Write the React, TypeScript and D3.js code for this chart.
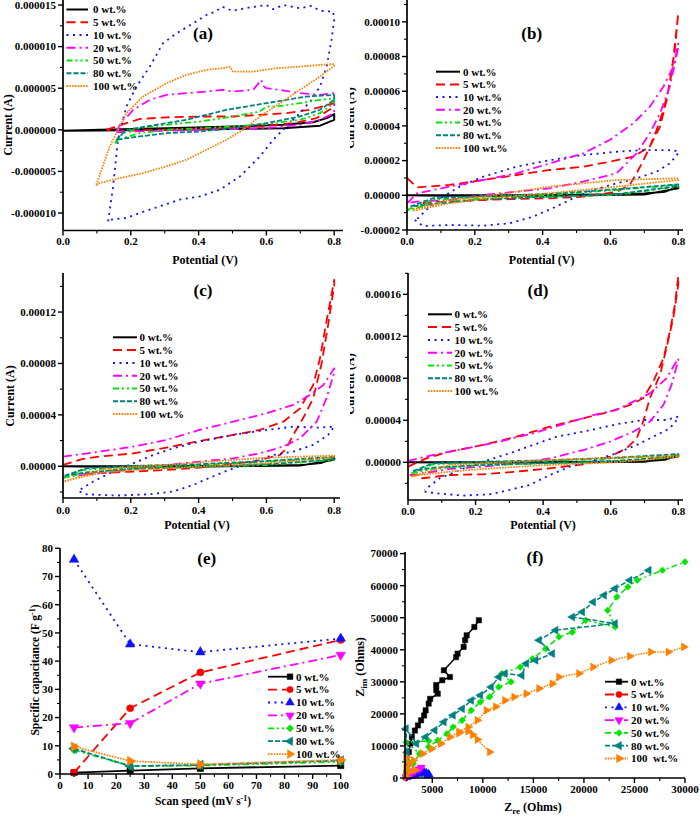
import React from 'react';
import * as d3 from 'd3';

type P = [number, number];

// ---------- shared legend / style data ----------
const SERIES = ['0 wt.%', '5 wt.%', '10 wt.%', '20 wt.%', '50 wt.%', '80 wt.%', '100 wt.%'];
const SERIES_F = ['0 wt.%', '5 wt.%', '10 wt.%', '20 wt.%', '50 wt.%', '80 wt.%', '100  wt.%'];
const COLORS = ['#000000', '#ff0000', '#1010ff', '#ff00ff', '#00e600', '#008080', '#ff8000'];
const DASH = ['none', '9,5', '2,4.5', '9,4,2,4', '6,3,2,3,2,3', '5,2', '1.6,1.2'];

// ---------- panel (a): potential (V), current (µA) ----------
const A0: P[] = [[0,-0.12],[0.108,0],[0.305,0.2],[0.502,0.4],[0.65,0.6],[0.738,0.9],[0.778,1.4],[0.8,1.9],[0.8,1.2],[0.758,0.5],[0.65,0.2],[0.502,0.1],[0.305,0],[0.108,-0.08],[0,-0.12]];
const A5: P[] = [[0.128,0],[0.187,0.8],[0.226,1.3],[0.305,1.5],[0.404,1.6],[0.502,1.6],[0.581,1.8],[0.659,2.0],[0.728,2.4],[0.8,3.2],[0.8,2.8],[0.748,1.4],[0.679,0.8],[0.581,0.4],[0.482,0.2],[0.384,0.1],[0.285,0],[0.187,-0.1],[0.128,0]];
const A10: P[] = [[0.133,-11],[0.148,-6.8],[0.162,-1.2],[0.187,2.8],[0.217,5.2],[0.256,7.6],[0.295,10.4],[0.335,11.6],[0.384,12.8],[0.423,13.8],[0.45,14.2],[0.47,14.8],[0.5,14.3],[0.55,14.7],[0.6,15.0],[0.62,14.5],[0.65,15.0],[0.7,14.6],[0.73,14.9],[0.76,14.3],[0.797,14.2],[0.8,13.2],[0.792,10.8],[0.778,7.6],[0.758,5.2],[0.733,3.6],[0.699,2.0],[0.659,0.4],[0.62,-1.2],[0.581,-3.2],[0.522,-5.6],[0.463,-7.2],[0.404,-8.0],[0.344,-8.4],[0.285,-9.2],[0.226,-10.0],[0.187,-10.6],[0.138,-10.8]];
const A20: P[] = [[0.157,-0.2],[0.177,1.2],[0.19,1.6],[0.207,2.4],[0.256,3.6],[0.305,4.2],[0.364,4.4],[0.423,4.6],[0.47,4.8],[0.502,4.6],[0.561,4.8],[0.585,6.0],[0.59,5.3],[0.6,5.0],[0.64,4.8],[0.699,4.4],[0.758,4.2],[0.8,4.4],[0.8,2.0],[0.758,1.2],[0.699,0.6],[0.6,0.2],[0.502,0.1],[0.404,0],[0.305,-0.1],[0.207,-0.2],[0.157,-0.3]];
const A50: P[] = [[0.153,-1.6],[0.177,-0.4],[0.226,0.2],[0.305,0.6],[0.404,1.0],[0.502,1.6],[0.581,2.2],[0.6,2.8],[0.63,2.8],[0.699,3.2],[0.758,3.6],[0.8,3.8],[0.8,3.2],[0.758,2.0],[0.699,1.2],[0.6,0.7],[0.502,0.4],[0.404,0.2],[0.305,0],[0.226,-0.4],[0.177,-1.0],[0.153,-1.6]];
const A80: P[] = [[0.157,-1.2],[0.187,0],[0.246,0.4],[0.305,0.8],[0.364,1.2],[0.423,1.8],[0.482,2.4],[0.541,2.8],[0.6,3.2],[0.659,3.6],[0.718,4.0],[0.8,4.2],[0.8,3.6],[0.758,2.4],[0.699,1.6],[0.6,0.8],[0.502,0.2],[0.404,-0.2],[0.305,-0.4],[0.226,-0.8],[0.187,-1.0],[0.157,-1.2]];
const A100: P[] = [[0.098,-6.6],[0.138,-2],[0.187,2],[0.236,4],[0.305,5.6],[0.364,6.6],[0.423,7.2],[0.47,7.4],[0.492,7.6],[0.502,7.0],[0.561,7.0],[0.63,7.4],[0.699,7.6],[0.758,7.8],[0.8,7.9],[0.8,7.7],[0.758,6.4],[0.699,4.8],[0.64,3.2],[0.581,1.6],[0.531,0],[0.482,-1.2],[0.423,-2.4],[0.364,-3.6],[0.305,-4.4],[0.236,-5.2],[0.167,-5.8],[0.108,-6.4],[0.098,-6.7]];
const A_Y_TICKS = [-10, -5, 0, 5, 10, 15];

// ---------- panel (b): current in 1e-5 A ----------
const B0: P[] = [[0,0],[0.3,0],[0.6,0.05],[0.7,0.1],[0.76,0.2],[0.8,0.5],[0.8,0.4],[0.7,0.05],[0.4,-0.02],[0.1,-0.03],[0,0]];
const B5: P[] = [[0,1.0],[0.03,0.46],[0.126,0.6],[0.224,0.88],[0.323,1.17],[0.421,1.46],[0.52,1.65],[0.598,1.94],[0.667,2.23],[0.716,2.8],[0.746,3.95],[0.766,5.5],[0.785,7.8],[0.8,10.5],[0.79,8.4],[0.775,6.4],[0.756,4.9],[0.736,3.76],[0.716,2.8],[0.697,2.0],[0.677,1.27],[0.657,0.6],[0.618,0.2],[0.52,-0.08],[0.421,-0.17],[0.323,-0.21],[0.224,-0.27],[0.126,-0.36],[0.03,-0.46]];
const B10: P[] = [[0.023,-1.42],[0.047,-1.77],[0.126,-1.71],[0.224,-1.75],[0.303,-1.61],[0.372,-1.23],[0.44,-0.65],[0.5,-0.08],[0.549,0.31],[0.618,0.69],[0.677,0.98],[0.736,1.36],[0.775,1.84],[0.8,2.42],[0.8,2.55],[0.766,2.61],[0.697,2.61],[0.618,2.51],[0.52,2.32],[0.421,2.03],[0.323,1.65],[0.224,1.07],[0.155,0.5],[0.106,-0.08],[0.057,-0.84],[0.023,-1.5]];
const B20: P[] = [[0,-0.46],[0.03,0.12],[0.126,0.5],[0.224,0.88],[0.323,1.27],[0.421,1.84],[0.52,2.42],[0.598,3.19],[0.667,4.15],[0.716,5.1],[0.756,6.26],[0.785,7.4],[0.8,8.75],[0.8,8.5],[0.775,6.26],[0.746,4.72],[0.716,3.57],[0.677,2.42],[0.618,1.27],[0.52,0.79],[0.421,0.4],[0.323,0.21],[0.224,0.02],[0.126,-0.27],[0.03,-0.36],[0,-0.46]];
const B50: P[] = [[0,-0.84],[0.077,-0.27],[0.224,-0.08],[0.421,0.02],[0.618,0.31],[0.8,0.6],[0.8,0.5],[0.618,0.02],[0.421,-0.08],[0.224,-0.17],[0.077,-0.46],[0,-0.88]];
const B80: P[] = [[0.01,-0.65],[0.077,-0.17],[0.224,-0.04],[0.421,0.08],[0.618,0.35],[0.8,0.63],[0.8,0.54],[0.618,0.06],[0.421,-0.08],[0.224,-0.23],[0.077,-0.5],[0.01,-0.65]];
const B100: P[] = [[0.018,-0.84],[0.126,-0.27],[0.224,-0.08],[0.323,0.21],[0.421,0.5],[0.52,0.69],[0.618,0.88],[0.8,0.98],[0.8,0.88],[0.618,0.5],[0.421,0.12],[0.224,-0.21],[0.126,-0.46],[0.018,-0.88]];
const B_Y_TICKS = [-2, 0, 2, 4, 6, 8, 10];

// ---------- panel (c): current in 1e-5 A ----------
const C0: P[] = [[0,0],[0.3,0],[0.6,0.05],[0.7,0.1],[0.76,0.25],[0.8,0.62],[0.8,0.5],[0.7,0.05],[0.4,-0.02],[0.1,-0.03],[0,0]];
const C5: P[] = [[0,0.1],[0.059,0.57],[0.108,0.75],[0.207,1.0],[0.305,1.45],[0.403,1.97],[0.502,2.44],[0.581,2.83],[0.65,3.47],[0.699,4.5],[0.738,6.32],[0.758,8.4],[0.777,11.25],[0.8,14.5],[0.8,14.1],[0.782,11.0],[0.762,7.9],[0.738,5.3],[0.708,3.73],[0.679,2.44],[0.659,1.4],[0.64,0.88],[0.561,0.36],[0.403,-0.1],[0.305,-0.29],[0.207,-0.41],[0.108,-0.54],[0.059,-0.62]];
const C10: P[] = [[0.049,-1.97],[0.069,-2.18],[0.157,-2.28],[0.256,-2.18],[0.325,-1.97],[0.384,-1.45],[0.453,-0.67],[0.502,-0.16],[0.561,0.36],[0.62,0.88],[0.679,1.14],[0.738,1.66],[0.782,2.44],[0.8,3.08],[0.748,3.0],[0.679,3.08],[0.6,2.83],[0.502,2.44],[0.403,1.92],[0.325,1.4],[0.266,0.88],[0.207,0.23],[0.148,-0.41],[0.089,-1.19],[0.049,-1.84]];
const C20: P[] = [[0,0.75],[0.108,1.14],[0.207,1.53],[0.305,2.05],[0.403,2.83],[0.502,3.47],[0.6,4.12],[0.679,4.77],[0.728,5.55],[0.768,6.32],[0.8,7.62],[0.8,7.3],[0.777,5.29],[0.748,3.47],[0.699,2.18],[0.65,1.53],[0.581,1.01],[0.502,0.62],[0.403,0.36],[0.305,0.1],[0.207,-0.21],[0.108,-0.54],[0.01,-0.8],[0,-0.88]];
const C50: P[] = [[0,-0.93],[0.059,-0.28],[0.207,-0.03],[0.403,0.1],[0.6,0.36],[0.8,0.67],[0.8,0.49],[0.6,0.1],[0.403,-0.05],[0.207,-0.16],[0.059,-0.54],[0,-0.93]];
const C80: P[] = [[0.005,-0.73],[0.069,-0.16],[0.207,0.03],[0.403,0.16],[0.6,0.41],[0.8,0.73],[0.8,0.54],[0.6,0.16],[0.403,-0.05],[0.207,-0.21],[0.069,-0.47],[0.005,-0.73]];
const C100: P[] = [[0.005,-1.19],[0.108,-0.29],[0.207,-0.03],[0.305,0.1],[0.403,0.31],[0.502,0.49],[0.6,0.67],[0.8,0.83],[0.8,0.7],[0.6,0.23],[0.403,-0.03],[0.207,-0.29],[0.108,-0.54],[0.005,-1.14]];
const C_Y_TICKS = [0, 4, 8, 12];

// ---------- panel (d): current in 1e-5 A ----------
const D0: P[] = [[0,0],[0.3,0],[0.6,0.05],[0.7,0.1],[0.76,0.25],[0.8,0.7],[0.8,0.55],[0.7,0.05],[0.4,-0.02],[0.1,-0.03],[0,0]];
const D5: P[] = [[0,-0.41],[0.054,0.38],[0.123,1.02],[0.222,1.65],[0.321,2.44],[0.42,3.4],[0.519,4.19],[0.598,4.83],[0.657,5.46],[0.696,6.1],[0.726,7.68],[0.756,9.9],[0.775,12.44],[0.79,15.0],[0.8,17.7],[0.8,16.9],[0.785,13.7],[0.765,10.86],[0.746,8.32],[0.716,6.1],[0.696,3.87],[0.677,2.29],[0.647,1.33],[0.598,0.54],[0.519,-0.19],[0.42,-0.57],[0.321,-0.89],[0.222,-1.14],[0.123,-1.21],[0.044,-1.52],[0.025,-1.45]];
const D10: P[] = [[0.049,-2.79],[0.084,-2.95],[0.163,-3.17],[0.242,-3.05],[0.301,-2.63],[0.36,-2.16],[0.42,-1.21],[0.479,-0.41],[0.538,0.06],[0.617,0.86],[0.677,1.65],[0.736,2.6],[0.775,3.24],[0.8,4.19],[0.8,4.35],[0.765,4.03],[0.696,4.03],[0.617,3.62],[0.519,2.92],[0.44,2.44],[0.37,1.65],[0.301,0.86],[0.222,0.06],[0.153,-0.73],[0.094,-1.52],[0.049,-2.63]];
const D20: P[] = [[0,0.13],[0.074,0.7],[0.173,1.33],[0.272,1.97],[0.37,2.76],[0.469,3.71],[0.548,4.5],[0.617,4.98],[0.667,5.78],[0.716,6.57],[0.765,8.0],[0.8,9.9],[0.8,9.7],[0.78,7.37],[0.756,5.46],[0.716,3.87],[0.667,2.92],[0.598,1.97],[0.519,1.17],[0.42,0.38],[0.321,-0.1],[0.222,-0.41],[0.123,-0.63],[0.015,-1.21],[0.005,-1.21]];
const D50: P[] = [[0.01,-1.05],[0.074,-0.19],[0.222,0],[0.42,0.13],[0.617,0.38],[0.8,0.7],[0.8,0.54],[0.617,0.06],[0.42,-0.1],[0.222,-0.25],[0.074,-0.63],[0.01,-1.05]];
const D80: P[] = [[0.015,-0.83],[0.074,-0.1],[0.222,0.06],[0.42,0.19],[0.617,0.44],[0.8,0.79],[0.8,0.6],[0.617,0.13],[0.42,-0.06],[0.222,-0.25],[0.074,-0.51],[0.015,-0.83]];
const D100: P[] = [[0.01,-1.37],[0.123,-0.25],[0.222,-0.1],[0.42,0.22],[0.617,0.44],[0.8,0.63],[0.8,0.51],[0.617,0],[0.42,-0.25],[0.222,-0.63],[0.123,-0.89],[0.01,-1.3]];
const D_Y_TICKS = [0, 4, 8, 12, 16];

const X_TICKS_CV = [0, 0.2, 0.4, 0.6, 0.8];

// ---------- panel (e): scan speed (mV/s) vs specific capacitance ----------
const SPEED = [5, 25, 50, 100];
const E0 = [0.5, 1.2, 2.0, 3.0];
const E5 = [0.5, 23.3, 36, 47.5];
const E10 = [76, 46, 43.2, 48];
const E20 = [16.5, 18, 32, 42.2];
const E50 = [8.5, 2.8, 3.0, 4.3];
const E80 = [9, 2.8, 3.2, 4.8];
const E100 = [9.7, 4.6, 3.4, 5.0];
const E_X_TICKS = [0, 10, 20, 30, 40, 50, 60, 70, 80, 90, 100];
const E_Y_TICKS = [0, 10, 20, 30, 40, 50, 60, 70, 80];

// ---------- panel (f): Nyquist, Zre vs Zim (Ohms) ----------
const F0: P[] = [[2450,1500],[2590,4500],[2680,8100],[2830,10700],[2980,12800],[3280,14800],[3580,16400],[3890,18000],[4190,19500],[4340,21100],[4640,23200],[4790,24700],[5540,26300],[5390,27400],[5390,29000],[5990,30500],[6750,31500],[6150,33600],[7350,37700],[7500,38800],[8100,40900],[8250,43000],[8400,44500],[9160,47100],[9610,49200]];
const F5: P[] = [[2350,100],[2500,300],[2700,500],[2900,700]];
const F10: P[] = [[2500,200],[2900,600],[3300,900],[3700,1200],[4000,1500],[4200,1900],[4400,1600],[4600,1300],[4700,1000],[4500,700]];
const F20: P[] = [[2400,300],[2700,900],[3000,1600],[3300,2200],[3700,2800],[3900,3300]];
const F50: P[] = [[2500,2500],[2700,5000],[3130,4500],[3735,7600],[2400,11200],[4640,11600],[4640,9700],[5540,11750],[6450,13800],[7050,15900],[7950,18000],[8855,21100],[9760,23700],[10670,25300],[11580,28400],[12790,30000],[11880,32600],[13700,34600],[14910,37200],[16210,40350],[17530,44000],[18850,45500],[20180,49200],[23080,47100],[22350,52300],[23260,56500],[24350,59600],[25270,61700],[27770,64800],[30000,67400]];
const F80: P[] = [[2500,8000],[2400,15400],[3430,10700],[4340,12800],[5240,14900],[6145,17500],[7050,19600],[7950,21600],[8855,24200],[9760,25800],[10820,28400],[11580,31500],[12180,32600],[13850,32000],[14300,35700],[15230,36700],[16870,38800],[15560,43000],[17200,46100],[23080,48200],[18850,50200],[19840,51800],[20910,54900],[21990,57000],[23080,59100],[24530,61700],[26420,64800]];
const F100: P[] = [[2400,500],[2400,3000],[2800,2000],[2400,6500],[3300,2500],[2680,4500],[3130,5500],[4040,7600],[4940,9150],[5840,10700],[6750,12800],[7650,14400],[8550,15900],[9460,18000],[10360,21100],[11270,22200],[12180,24200],[13090,25300],[14300,26300],[15560,27900],[16870,29400],[17530,31500],[19510,32600],[20910,34600],[22720,36700],[24530,38000],[26620,39300],[28350,39300],[29880,40900]];
const F100_TAIL: P[] = [[7650,14000],[8550,14600],[9000,13500],[9460,12000],[10670,8100]];
const F_X_TICKS = [5000, 10000, 15000, 20000, 25000, 30000];
const F_Y_TICKS = [0, 10000, 20000, 30000, 40000, 50000, 60000, 70000];

const FONT = '"Liberation Serif", "Times New Roman", serif';
const SYM = [d3.symbolSquare, d3.symbolCircle, d3.symbolTriangle, d3.symbolTriangle, d3.symbolSquare, d3.symbolTriangle, d3.symbolTriangle];
const ROT = [0, 0, 0, 180, 45, -90, 90];

type Frame = { l: number; r: number; t: number; b: number };

function Marker({ i, x, y, size }: { i: number; x: number; y: number; size: number }) {
  const d = d3.symbol(SYM[i], i === 4 ? size * 0.8 : size)() as string;
  return <path d={d} transform={`translate(${x},${y}) rotate(${ROT[i]})`} fill={COLORS[i]} stroke={COLORS[i]} strokeWidth={0.5} />;
}

function Axes({ f, xs, ys, xTicks, yTicks, xMinor, yMinor, xFmt, yFmt, xLabDy = 14.5 }: any) {
  return (
    <g fontFamily={FONT} fontWeight="bold" fontSize={11}>
      <line x1={f.l} x2={f.l} y1={f.t} y2={f.b} stroke="#000" strokeWidth={1.7} />
      <line x1={f.l} x2={f.r} y1={f.b} y2={f.b} stroke="#000" strokeWidth={1.7} />
      {yTicks.map((t: number) => (
        <g key={'y' + t}>
          <line x1={f.l - 5} x2={f.l} y1={ys(t)} y2={ys(t)} stroke="#000" strokeWidth={1.4} />
          <text x={f.l - 7} y={ys(t)} dy="0.35em" textAnchor="end">{yFmt(t)}</text>
        </g>
      ))}
      {yMinor.map((t: number) => (
        <line key={'ym' + t} x1={f.l - 3} x2={f.l} y1={ys(t)} y2={ys(t)} stroke="#000" strokeWidth={1.1} />
      ))}
      {xTicks.map((t: number) => (
        <g key={'x' + t}>
          <line x1={xs(t)} x2={xs(t)} y1={f.b} y2={f.b + 5} stroke="#000" strokeWidth={1.4} />
          <text x={xs(t)} y={f.b + xLabDy} textAnchor="middle">{xFmt(t)}</text>
        </g>
      ))}
      {xMinor.map((t: number) => (
        <line key={'xm' + t} x1={xs(t)} x2={xs(t)} y1={f.b} y2={f.b + 3} stroke="#000" strokeWidth={1.1} />
      ))}
    </g>
  );
}

function minorBetween(lo: number, hi: number, step: number, majors: number[]) {
  const out: number[] = [];
  const n = Math.round((hi - lo) / step);
  for (let k = 0; k <= n; k++) {
    const v = lo + k * step;
    if (!majors.some((m) => Math.abs(m - v) < step * 0.01)) out.push(v);
  }
  return out;
}

function LegendCV({ x0, x1, tx, y0, dy }: { x0: number; x1: number; tx: number; y0: number; dy: number }) {
  return (
    <g fontFamily={FONT} fontWeight="bold" fontSize={11}>
      {SERIES.map((s, i) => (
        <g key={s}>
          <line x1={x0} x2={x1} y1={y0 + i * dy} y2={y0 + i * dy} stroke={COLORS[i]} strokeWidth={2} strokeDasharray={DASH[i]} />
          <text x={tx} y={y0 + i * dy} dy="0.35em">{s}</text>
        </g>
      ))}
    </g>
  );
}

function CVPanel(props: {
  f: Frame; xMax: number; yDom: [number, number]; yTicks: number[]; yMinorStep: number; yFmt: (v: number) => string;
  data: P[][]; tag: string; tagX: number; tagY: number; leg: { x0: number; x1: number; tx: number; y0: number; dy: number };
  xTitleX: number; xTitleY: number; yTitleX: number; yTitleY: number; clip?: string; xLabDy?: number;
}) {
  const { f } = props;
  const xs = d3.scaleLinear().domain([0, props.xMax]).range([f.l, f.r]);
  const ys = d3.scaleLinear().domain(props.yDom).range([f.b, f.t]);
  const line = d3.line<P>().x((d) => xs(d[0])).y((d) => ys(d[1]));
  const xMinor = [0.1, 0.3, 0.5, 0.7];
  const lo = Math.ceil(props.yDom[0] / props.yMinorStep) * props.yMinorStep;
  const yMinor = minorBetween(lo, props.yDom[1], props.yMinorStep, props.yTicks).filter((v) => v <= props.yDom[1]);
  return (
    <g>
      {props.data.map((d, i) => (
        <path key={i} d={line(d) as string} fill="none" stroke={COLORS[i]} strokeWidth={i === 0 ? 2 : 1.8} strokeDasharray={DASH[i]} strokeLinejoin="round" />
      ))}
      <Axes f={f} xs={xs} ys={ys} xTicks={X_TICKS_CV} yTicks={props.yTicks} xMinor={xMinor} yMinor={yMinor}
        xFmt={(v: number) => v.toFixed(1)} yFmt={props.yFmt} xLabDy={props.xLabDy ?? 14.5} />
      <LegendCV {...props.leg} />
      <text x={props.tagX} y={props.tagY} textAnchor="middle" fontFamily={FONT} fontWeight="bold" fontSize={17}>{props.tag}</text>
      <text x={props.xTitleX} y={props.xTitleY} textAnchor="middle" fontFamily={FONT} fontWeight="bold" fontSize={12}>Potential (V)</text>
      <g clipPath={props.clip}>
        <text transform={`translate(${props.yTitleX},${props.yTitleY}) rotate(-90)`} textAnchor="middle" fontFamily={FONT} fontWeight="bold" fontSize={12}>Current (A)</text>
      </g>
    </g>
  );
}

function PanelE() {
  const f: Frame = { l: 60, r: 341, t: 548.3, b: 774 };
  const xs = d3.scaleLinear().domain([0, 100]).range([60, 340.7]);
  const ys = d3.scaleLinear().domain([0, 80]).range([774, 548.3]);
  const all = [E0, E5, E10, E20, E50, E80, E100];
  const line = d3.line<number>().x((_, k) => xs(SPEED[k])).y((d) => ys(d));
  const xMinor = minorBetween(5, 95, 10, []);
  const yMinor = minorBetween(5, 75, 10, []);
  const lx0 = 268, lx1 = 293, ly0 = 676.7, ldy = 12.9;
  return (
    <g>
      {all.map((s, i) => (
        <g key={i}>
          <path d={line(s) as string} fill="none" stroke={COLORS[i]} strokeWidth={1.8} strokeDasharray={DASH[i]} />
          {s.map((v, k) => <Marker key={k} i={i} x={xs(SPEED[k])} y={ys(v)} size={40} />)}
        </g>
      ))}
      <Axes f={f} xs={xs} ys={ys} xTicks={E_X_TICKS} yTicks={E_Y_TICKS} xMinor={xMinor} yMinor={yMinor}
        xFmt={(v: number) => String(v)} yFmt={(v: number) => String(v)} xLabDy={15} />
      <g fontFamily={FONT} fontWeight="bold" fontSize={11}>
        {SERIES.map((s, i) => (
          <g key={s}>
            <line x1={lx0} x2={lx1} y1={ly0 + i * ldy} y2={ly0 + i * ldy} stroke={COLORS[i]} strokeWidth={1.8} strokeDasharray={DASH[i]} />
            <Marker i={i} x={lx1 - 3} y={ly0 + i * ldy} size={32} />
            <text x={lx1 + 3} y={ly0 + i * ldy} dy="0.35em">{s}</text>
          </g>
        ))}
      </g>
      <text x={206.7} y={564} textAnchor="middle" fontFamily={FONT} fontWeight="bold" fontSize={17}>(e)</text>
      <text x={203} y={805} textAnchor="middle" fontFamily={FONT} fontWeight="bold" fontSize={11.5}>
        Scan speed (mV s<tspan dy={-4} fontSize={8}>-1</tspan><tspan dy={4}>)</tspan>
      </text>
      <text transform="translate(39,670) rotate(-90)" textAnchor="middle" fontFamily={FONT} fontWeight="bold" fontSize={11.5}>
        Specific capacitance (F g<tspan dy={-4} fontSize={8}>-1</tspan><tspan dy={4}>)</tspan>
      </text>
    </g>
  );
}

function PanelF() {
  const f: Frame = { l: 405, r: 685, t: 552, b: 778 };
  const xs = d3.scaleLinear().domain([2300, 30000]).range([405, 685]);
  const ys = d3.scaleLinear().domain([0, 70500]).range([778, 552]);
  const all = [F0, F5, F10, F20, F50, F80, F100];
  const line = d3.line<P>().x((d) => xs(d[0])).y((d) => ys(d[1]));
  const xMinor = minorBetween(2500, 27500, 5000, []);
  const yMinor = minorBetween(5000, 65000, 10000, []);
  const lx0 = 605, lx1 = 628, ly0 = 681.7, ldy = 12.8;
  return (
    <g>
      {all.map((s, i) => (
        <g key={i}>
          <path d={line(s) as string} fill="none" stroke={COLORS[i]} strokeWidth={1.5} strokeDasharray={DASH[i]} />
          {s.map((p, k) => <Marker key={k} i={i} x={xs(p[0])} y={ys(p[1])} size={28} />)}
        </g>
      ))}
      <path d={line(F100_TAIL) as string} fill="none" stroke={COLORS[6]} strokeWidth={1.5} strokeDasharray={DASH[6]} />
      {F100_TAIL.map((p, k) => <Marker key={'t' + k} i={6} x={xs(p[0])} y={ys(p[1])} size={28} />)}
      <Axes f={f} xs={xs} ys={ys} xTicks={F_X_TICKS} yTicks={F_Y_TICKS} xMinor={xMinor} yMinor={yMinor}
        xFmt={(v: number) => String(v)} yFmt={(v: number) => String(v)} xLabDy={15} />
      <g fontFamily={FONT} fontWeight="bold" fontSize={11}>
        {SERIES_F.map((s, i) => (
          <g key={s}>
            <line x1={lx0} x2={lx1} y1={ly0 + i * ldy} y2={ly0 + i * ldy} stroke={COLORS[i]} strokeWidth={1.8} strokeDasharray={DASH[i]} />
            <Marker i={i} x={lx0 + 14} y={ly0 + i * ldy} size={30} />
            <text x={lx1 + 3} y={ly0 + i * ldy} dy="0.35em" style={{ whiteSpace: 'pre' }}>{s}</text>
          </g>
        ))}
      </g>
      <text x={535} y={563} textAnchor="middle" fontFamily={FONT} fontWeight="bold" fontSize={17}>(f)</text>
      <text x={533} y={811} textAnchor="middle" fontFamily={FONT} fontWeight="bold" fontSize={12}>
        Z<tspan dy={3} fontSize={9}>re</tspan><tspan dy={-3}> (Ohms)</tspan>
      </text>
      <text transform="translate(364,667) rotate(-90)" textAnchor="middle" fontFamily={FONT} fontWeight="bold" fontSize={12}>
        Z<tspan dy={3} fontSize={9}>im</tspan><tspan dy={-3}> (Ohms)</tspan>
      </text>
    </g>
  );
}

export default function App() {
  const fmt6 = (v: number) => (v * 1e-6).toFixed(6);
  const fmt5 = (v: number) => (v * 1e-5).toFixed(5);
  return (
    <svg width={700} height={818} viewBox="0 0 700 818" style={{ position: 'absolute', left: 0, top: 0, background: '#fff' }}>
      <defs>
        <clipPath id="clipR"><rect x={350} y={0} width={350} height={818} /></clipPath>
      </defs>
      <rect x={0} y={0} width={700} height={818} fill="#fff" />
      <CVPanel f={{ l: 63, r: 343, t: 0, b: 230.5 }} xMax={0.826} yDom={[-12.1, 15.6]} yTicks={A_Y_TICKS} yMinorStep={2.5} yFmt={fmt6}
        data={[A0, A5, A10, A20, A50, A80, A100]} tag="(a)" tagX={203} tagY={39}
        leg={{ x0: 66.5, x1: 88, tx: 93, y0: 9.5, dy: 12.75 }} xTitleX={205} xTitleY={264} yTitleX={11.5} yTitleY={125} />
      <CVPanel f={{ l: 407, r: 683, t: 0, b: 230 }} xMax={0.814} yDom={[-2.0, 11.26]} yTicks={B_Y_TICKS} yMinorStep={1} yFmt={fmt5}
        data={[B0, B5, B10, B20, B50, B80, B100]} tag="(b)" tagX={531.7} tagY={39}
        leg={{ x0: 436, x1: 460, tx: 463, y0: 71.7, dy: 12.7 }} xTitleX={541.7} xTitleY={264} yTitleX={354} yTitleY={118} clip="url(#clipR)" />
      <CVPanel f={{ l: 63, r: 340, t: 273, b: 498 }} xMax={0.817} yDom={[-2.47, 15.04]} yTicks={C_Y_TICKS} yMinorStep={2} yFmt={fmt5}
        data={[C0, C5, C10, C20, C50, C80, C100]} tag="(c)" tagX={203} tagY={296}
        leg={{ x0: 113, x1: 137, tx: 139.5, y0: 337.3, dy: 12.8 }} xTitleX={197} xTitleY={529} yTitleX={14} yTitleY={396} xLabDy={15.5} />
      <CVPanel f={{ l: 408, r: 683, t: 273, b: 500 }} xMax={0.814} yDom={[-3.59, 18.03]} yTicks={D_Y_TICKS} yMinorStep={2} yFmt={fmt5}
        data={[D0, D5, D10, D20, D50, D80, D100]} tag="(d)" tagX={538} tagY={296}
        leg={{ x0: 428, x1: 452, tx: 454.5, y0: 314.3, dy: 12.8 }} xTitleX={543} xTitleY={529} yTitleX={354} yTitleY={384} clip="url(#clipR)" xLabDy={15} />
      <PanelE />
      <PanelF />
    </svg>
  );
}
